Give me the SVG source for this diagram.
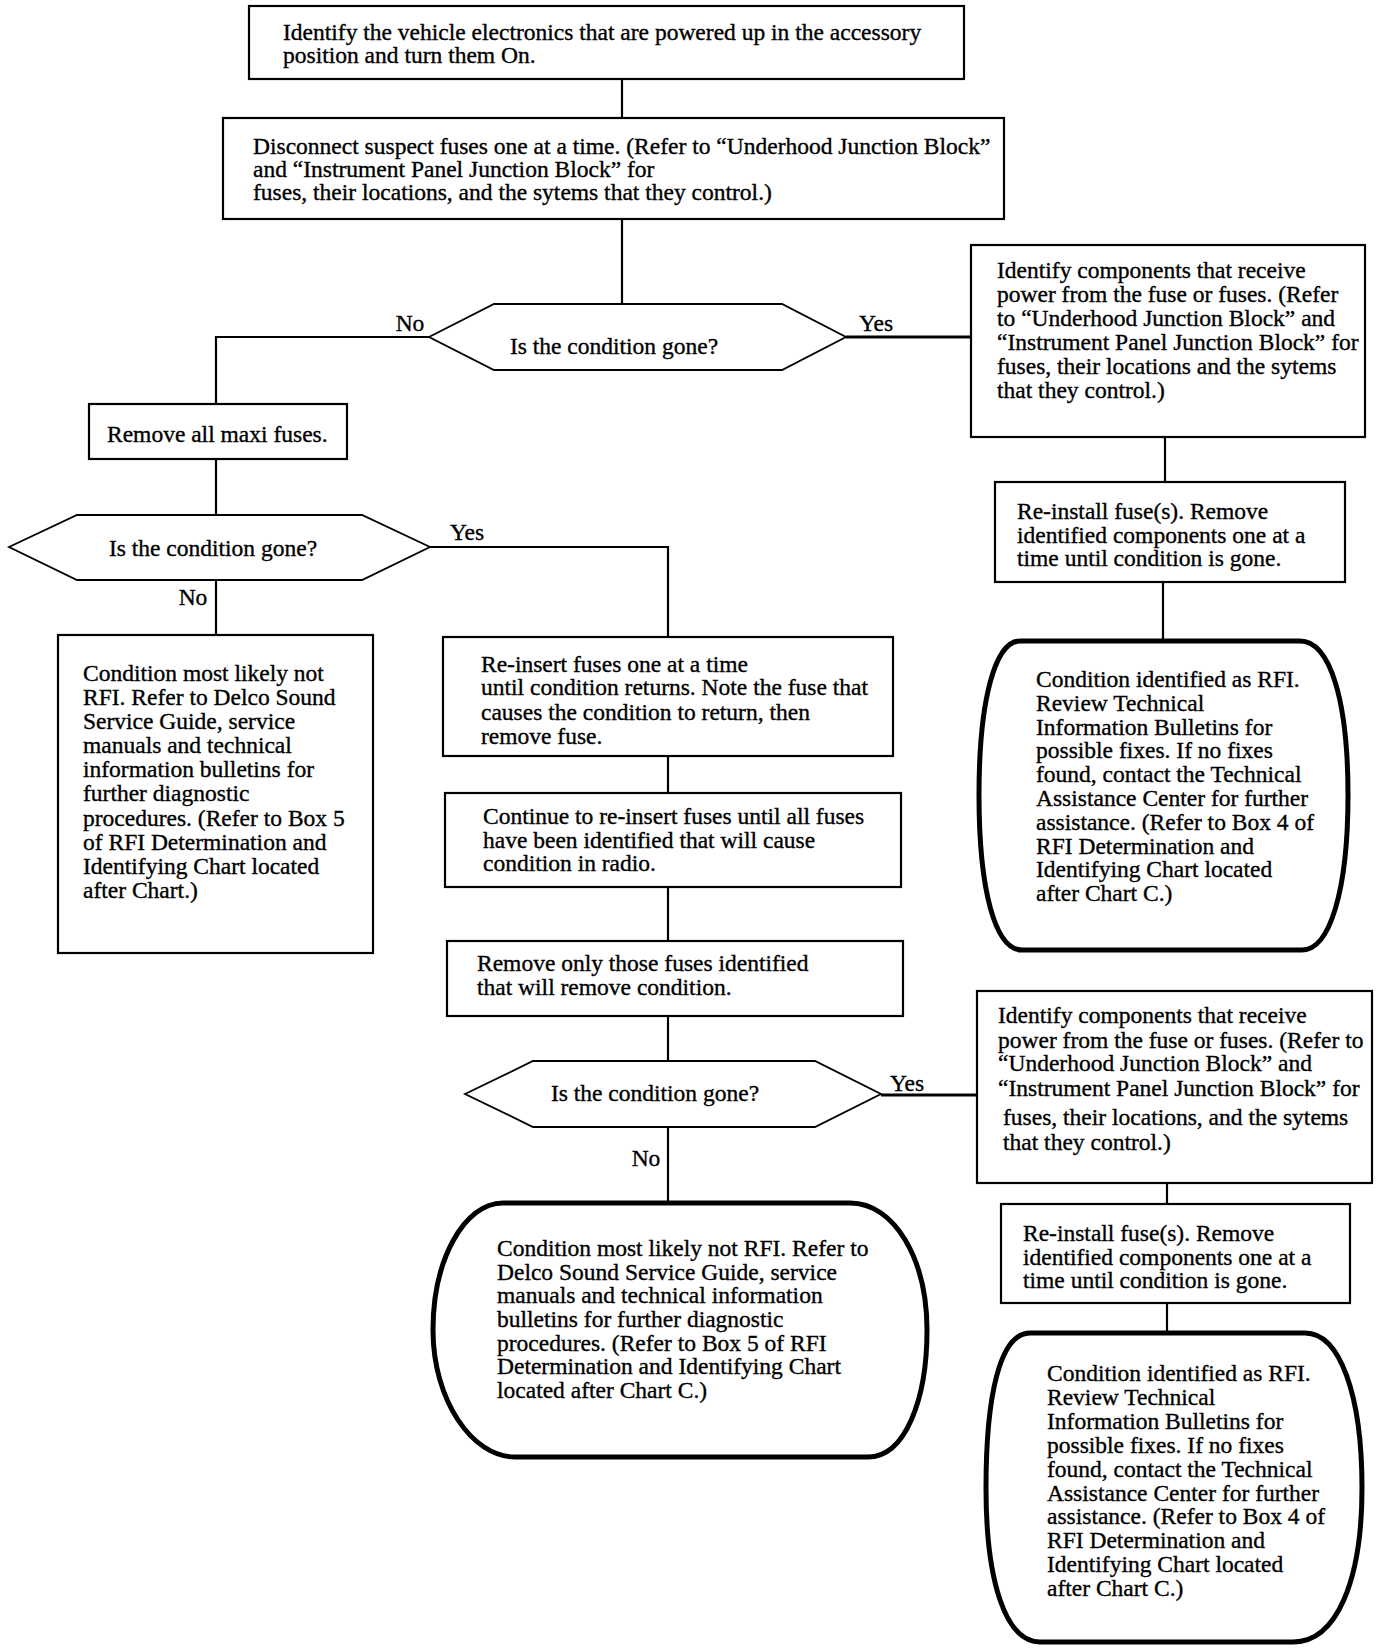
<svg xmlns="http://www.w3.org/2000/svg" width="1392" height="1650" viewBox="0 0 1392 1650">
<style>
text{font-family:"Liberation Serif","Times New Roman",serif;font-size:23.5px;fill:#000;stroke:#000;stroke-width:0.35}
.box{fill:#fff;stroke:#000;stroke-width:2.2}
.term{fill:#fff;stroke:#000;stroke-width:5}
.dec{fill:#fff;stroke:#000;stroke-width:1.8}
.c{fill:none;stroke:#000;stroke-width:2.2}
.ct{fill:none;stroke:#000;stroke-width:3.2}
.m{text-anchor:middle}
</style>
<rect width="1392" height="1650" fill="#fff"/>
<g id="connectors">
<path class="c" d="M622 79V118"/>
<path class="c" d="M622 219V304"/>
<path class="c" d="M429 337H216V404"/>
<path class="ct" d="M846 337H971"/>
<path class="c" d="M216 459V515"/>
<path class="c" d="M216 580V635"/>
<path class="c" d="M430 547H668V637"/>
<path class="c" d="M668 756V793"/>
<path class="c" d="M668 887V941"/>
<path class="c" d="M668 1016V1061"/>
<path class="c" d="M668 1127V1203"/>
<path class="ct" d="M881 1095H977"/>
<path class="c" d="M1165 437V482"/>
<path class="c" d="M1163 582V641"/>
<path class="c" d="M1167 1183V1204"/>
<path class="c" d="M1167 1303V1333"/>
<text class="m" x="410" y="331">No</text>
<text class="m" x="876" y="331">Yes</text>
<text class="m" x="467" y="540">Yes</text>
<text class="m" x="193" y="605">No</text>
<text class="m" x="907" y="1091">Yes</text>
<text class="m" x="646" y="1166">No</text>
</g>
<g id="n1">
<rect class="box" x="249" y="6" width="715" height="73"/>
<text x="283" y="40">Identify the vehicle electronics that are powered up in the accessory</text>
<text x="283" y="63">position and turn them On.</text>
</g>
<g id="n2">
<rect class="box" x="223" y="118" width="781" height="101"/>
<text x="253" y="154">Disconnect suspect fuses one at a time. (Refer to “Underhood Junction Block”</text>
<text x="253" y="177">and “Instrument Panel Junction Block”  for</text>
<text x="253" y="200">fuses, their locations, and the sytems that they control.)</text>
</g>
<g id="d1">
<polygon class="dec" points="429,337 494,304 782,304 846,337 782,370 494,370"/>
<text class="m" x="614" y="354">Is the condition gone?</text>
</g>
<g id="n3">
<rect class="box" x="971" y="245" width="394" height="192"/>
<text x="997" y="278">Identify components that receive</text>
<text x="997" y="302">power from the fuse or fuses. (Refer</text>
<text x="997" y="326">to “Underhood Junction Block” and</text>
<text x="997" y="350">“Instrument Panel Junction Block” for</text>
<text x="997" y="374">fuses, their locations and the sytems</text>
<text x="997" y="398">that they control.)</text>
</g>
<g id="n4">
<rect class="box" x="89" y="404" width="258" height="55"/>
<text x="107" y="442">Remove all maxi fuses.</text>
</g>
<g id="n5">
<rect class="box" x="995" y="482" width="350" height="100"/>
<text x="1017" y="519">Re-install fuse(s). Remove</text>
<text x="1017" y="543">identified components one at a</text>
<text x="1017" y="566">time until condition is gone.</text>
</g>
<g id="d2">
<polygon class="dec" points="9,547 77,515 362,515 430,547 362,580 77,580"/>
<text class="m" x="213" y="556">Is the condition gone?</text>
</g>
<g id="n6">
<rect class="box" x="58" y="635" width="315" height="318"/>
<text x="83" y="681">Condition most likely not</text>
<text x="83" y="705">RFI. Refer to Delco Sound</text>
<text x="83" y="729">Service Guide, service</text>
<text x="83" y="753">manuals and technical</text>
<text x="83" y="777">information bulletins for</text>
<text x="83" y="801">further diagnostic</text>
<text x="83" y="826">procedures. (Refer to Box 5</text>
<text x="83" y="850">of RFI Determination and</text>
<text x="83" y="874">Identifying Chart located</text>
<text x="83" y="898">after Chart.)</text>
</g>
<g id="n7">
<rect class="box" x="443" y="637" width="450" height="119"/>
<text x="481" y="672">Re-insert fuses one at a time</text>
<text x="481" y="695">until condition returns. Note the fuse that</text>
<text x="481" y="720">causes the condition to return, then</text>
<text x="481" y="744">remove fuse.</text>
</g>
<g id="t1">
<path class="term" d="M1020 641H1300C1330 641 1348 700 1348 795C1348 890 1330 950 1302 950H1022C995 950 979 890 979 795C979 700 995 641 1020 641Z"/>
<text x="1036" y="687">Condition identified as RFI.</text>
<text x="1036" y="711">Review Technical</text>
<text x="1036" y="735">Information Bulletins for</text>
<text x="1036" y="758">possible fixes. If no fixes</text>
<text x="1036" y="782">found, contact the Technical</text>
<text x="1036" y="806">Assistance Center for further</text>
<text x="1036" y="830">assistance. (Refer to Box 4 of</text>
<text x="1036" y="854">RFI Determination and</text>
<text x="1036" y="877">Identifying Chart located</text>
<text x="1036" y="901">after Chart C.)</text>
</g>
<g id="n8">
<rect class="box" x="445" y="793" width="456" height="94"/>
<text x="483" y="824">Continue to re-insert fuses until all fuses</text>
<text x="483" y="848">have been identified that will cause</text>
<text x="483" y="871">condition in radio.</text>
</g>
<g id="n9">
<rect class="box" x="447" y="941" width="456" height="75"/>
<text x="477" y="971">Remove only those fuses identified</text>
<text x="477" y="995">that will remove condition.</text>
</g>
<g id="d3">
<polygon class="dec" points="465,1094 533,1061 815,1061 881,1094 815,1127 533,1127"/>
<text class="m" x="655" y="1101">Is the condition gone?</text>
</g>
<g id="n10">
<rect class="box" x="977" y="991" width="395" height="192"/>
<text x="998" y="1023">Identify components that receive</text>
<text x="998" y="1048">power from the fuse or fuses. (Refer to</text>
<text x="998" y="1071">“Underhood Junction Block” and</text>
<text x="998" y="1096">“Instrument Panel Junction Block” for</text>
<text x="1003" y="1125">fuses, their locations, and the sytems</text>
<text x="1003" y="1150">that they control.)</text>
</g>
<g id="n11">
<rect class="box" x="1001" y="1204" width="349" height="99"/>
<text x="1023" y="1241">Re-install fuse(s). Remove</text>
<text x="1023" y="1265">identified components one at a</text>
<text x="1023" y="1288">time until condition is gone.</text>
</g>
<g id="t2">
<path class="term" d="M503 1203H850C895 1203 927 1260 927 1330C927 1400 905 1457 868 1457H515C472 1457 433 1400 433 1330C433 1260 464 1203 503 1203Z"/>
<text x="497" y="1256">Condition most likely not RFI. Refer to</text>
<text x="497" y="1280">Delco Sound Service Guide, service</text>
<text x="497" y="1303">manuals and technical information</text>
<text x="497" y="1327">bulletins for further diagnostic</text>
<text x="497" y="1351">procedures. (Refer to Box 5 of RFI</text>
<text x="497" y="1374">Determination and Identifying Chart</text>
<text x="497" y="1398">located after Chart C.)</text>
</g>
<g id="t3">
<path class="term" d="M1030 1333H1305C1340 1333 1362 1395 1362 1488C1362 1580 1337 1642 1293 1642H1040C1005 1642 986 1580 986 1488C986 1395 1000 1333 1030 1333Z"/>
<text x="1047" y="1381">Condition identified as RFI.</text>
<text x="1047" y="1405">Review Technical</text>
<text x="1047" y="1429">Information Bulletins for</text>
<text x="1047" y="1453">possible fixes. If no fixes</text>
<text x="1047" y="1477">found, contact the Technical</text>
<text x="1047" y="1501">Assistance Center for further</text>
<text x="1047" y="1524">assistance. (Refer to Box 4 of</text>
<text x="1047" y="1548">RFI Determination and</text>
<text x="1047" y="1572">Identifying Chart located</text>
<text x="1047" y="1596">after Chart C.)</text>
</g>
</svg>
